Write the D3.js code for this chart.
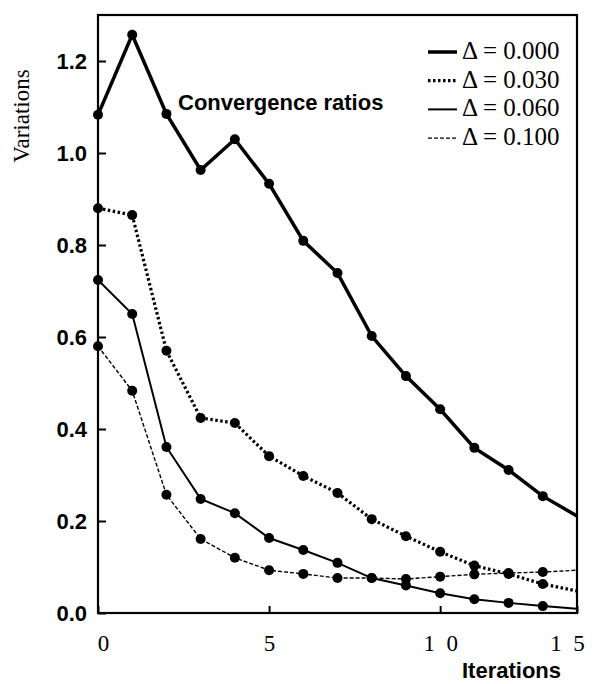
<!DOCTYPE html>
<html>
 <head>
  <title>Convergence ratios</title>
  <script src="https://cdnjs.cloudflare.com/ajax/libs/d3/7.8.5/d3.min.js"></script>
  <style>
   body { margin: 0; background: #fff; }
   .sans { font-family: "Liberation Sans", Arial, Helvetica, sans-serif; font-weight: bold; }
   .serif { font-family: "Liberation Serif", "Times New Roman", serif; }
  </style>
 </head>

 <body>
  <script>
   // iteration index 0..14
   const iterations = [0, 1, 2, 3, 4, 5, 6, 7, 8, 9, 10, 11, 12, 13, 14];
   const deltaLabels = ["0.000", "0.030", "0.060", "0.100"];
   const d000 = [1.083, 1.257, 1.085, 0.963, 1.030, 0.933, 0.809, 0.739, 0.602, 0.515, 0.443, 0.359, 0.311, 0.254, 0.211];
   const d030 = [0.880, 0.865, 0.570, 0.424, 0.413, 0.341, 0.298, 0.261, 0.204, 0.167, 0.133, 0.103, 0.085, 0.063, 0.048];
   const d060 = [0.724, 0.650, 0.361, 0.248, 0.217, 0.163, 0.137, 0.109, 0.076, 0.060, 0.043, 0.030, 0.022, 0.015, 0.009];
   const d100 = [0.580, 0.483, 0.257, 0.161, 0.120, 0.093, 0.085, 0.076, 0.076, 0.074, 0.079, 0.084, 0.087, 0.089, 0.093];
   const yTicks = [0, 0.2, 0.4, 0.6, 0.8, 1.0, 1.2];
   const xTicks = [0, 5, 10, 14];
   const xTickLabels = ["0", "5", "1\u20020", "1\u20025"];

   const w = 598;
   const h = 684;
   const series = [d000, d030, d060, d100];
   const styles = [
    {width: 3.5, dash: null},
    {width: 3.2, dash: "2.5,2.5"},
    {width: 2, dash: null},
    {width: 1.4, dash: "4,2"}
   ];

   const xScale = d3.scaleLinear()
                    .domain([0, 14])
                    .range([98, 577]);
   const yScale = d3.scaleLinear()
                    .domain([0, 1.3])
                    .range([613, 15]);

   const svg = d3.select("body")
                 .append("svg")
                 .attr("width", w)
                 .attr("height", h);

   // y axis, ticks pointing into the plot
   const yAxis = d3.axisLeft(yScale)
                   .tickValues(yTicks)
                   .tickFormat(d3.format(".1f"))
                   .tickSizeInner(-8)
                   .tickSizeOuter(0)
                   .tickPadding(11);
   const gy = svg.append("g")
                 .attr("transform", "translate(98,0)")
                 .call(yAxis);
   gy.select(".domain").remove();
   gy.selectAll("line").attr("stroke", "#000").attr("stroke-width", 2);
   gy.selectAll("text")
     .attr("class", "sans")
     .style("font-size", "22px")
     .attr("fill", "#000");

   const xAxis = d3.axisBottom(xScale)
                   .tickValues(xTicks)
                   .tickFormat((d, i) => xTickLabels[i])
                   .tickSizeInner(-7)
                   .tickSizeOuter(0)
                   .tickPadding(22);
   const gx = svg.append("g")
                 .attr("transform", "translate(0,613)")
                 .call(xAxis);
   gx.select(".domain").remove();
   gx.selectAll("line").attr("stroke", "#000").attr("stroke-width", 2);
   gx.selectAll("text")
     .attr("class", "serif")
     .style("font-size", "23px")
     .attr("fill", "#000")
     .attr("dx", (d, i) => i == 0 ? 5 : (i == 3 ? -10 : 0));

   // frame
   svg.append("rect")
      .attr("x", xScale(0))
      .attr("y", yScale(1.3))
      .attr("width", xScale(14) - xScale(0))
      .attr("height", yScale(0) - yScale(1.3))
      .attr("fill", "none")
      .attr("stroke", "#000")
      .attr("stroke-width", 2.2);

   const line = d3.line()
                  .x((d, i) => xScale(iterations[i]))
                  .y(d => yScale(d));

   series.forEach((s, k) => {
    svg.append("path")
       .datum(s)
       .attr("d", line)
       .attr("fill", "none")
       .attr("stroke", "#000")
       .attr("stroke-width", styles[k].width)
       .attr("stroke-dasharray", styles[k].dash);
    svg.selectAll(null)
       .data(s.slice(0, 14))
       .enter()
       .append("circle")
       .attr("cx", (d, i) => xScale(iterations[i]))
       .attr("cy", d => yScale(d))
       .attr("r", 5)
       .attr("fill", "#000");
   });

   // legend
   const legend = svg.append("g");
   deltaLabels.forEach((lab, k) => {
    const ly = 52 + k * 28.7;
    legend.append("line")
          .attr("x1", 428)
          .attr("x2", 457)
          .attr("y1", ly)
          .attr("y2", ly)
          .attr("stroke", "#000")
          .attr("stroke-width", styles[k].width)
          .attr("stroke-dasharray", styles[k].dash);
    legend.append("text")
          .attr("class", "serif")
          .attr("x", 462)
          .attr("y", ly + 7)
          .style("font-size", "25px")
          .text("\u0394 = " + lab);
   });

   svg.append("text")
      .attr("class", "sans")
      .attr("x", 178)
      .attr("y", 110)
      .style("font-size", "22px")
      .text("Convergence ratios");

   svg.append("text")
      .attr("class", "sans")
      .attr("x", 462)
      .attr("y", 678)
      .style("font-size", "22px")
      .text("Iterations");

   svg.append("text")
      .attr("class", "serif")
      .attr("transform", "translate(29,116) rotate(-90)")
      .attr("text-anchor", "middle")
      .style("font-size", "23px")
      .text("Variations");
  </script>
 </body>
</html>
